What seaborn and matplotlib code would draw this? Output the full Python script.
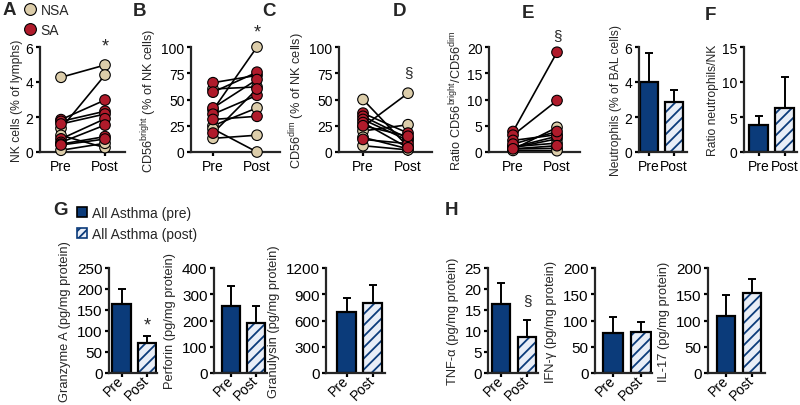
import numpy as np
import pandas as pd
import seaborn as sns
import matplotlib
matplotlib.use("Agg")
import matplotlib.pyplot as plt
from matplotlib.lines import Line2D
from matplotlib.patches import Patch, Rectangle

TIMES = ["Pre", "Post"]
GROUPS = ["NSA", "SA"]

# paired per-subject values
A_NSA_PRE = [4.27, 1.35, 0.95, 0.10]
A_NSA_POST = [4.97, 4.40, 0.25, 0.50]
A_SA_PRE = [1.85, 1.75, 1.60, 0.75, 0.55, 0.45, 0.40]
A_SA_POST = [2.97, 2.33, 2.17, 1.90, 1.54, 0.88, 0.74]

B_NSA_PRE = [40, 60, 25, 13, 22]
B_NSA_POST = [100, 62, 42, 16, 0]
B_SA_PRE = [66, 57, 42, 36, 31, 18]
B_SA_POST = [73, 76, 69, 54, 34, 60]

C_NSA_PRE = [50, 24, 20, 14, 6]
C_NSA_POST = [5, 56, 26, 3, 2]
C_SA_PRE = [37, 34, 31, 12, 28, 25]
C_SA_POST = [18, 13, 11, 8, 4, 15]

D_NSA_PRE = [0.5, 0.8, 1.0, 0.6, 0.3]
D_NSA_POST = [4.7, 2.5, 1.7, 0.7, 0.25]
D_SA_PRE = [3.9, 3.2, 2.2, 0.9, 1.5, 0.6]
D_SA_POST = [19.0, 9.8, 3.3, 3.0, 3.9, 1.2]

# mean and SEM for bar panels (Pre, Post)
E_MEAN, E_SEM = [3.98, 2.84], [1.70, 0.70]
F_MEAN, F_SEM = [3.9, 6.24], [1.2, 4.45]
GZMA_MEAN, GZMA_SEM = [164, 71], [36, 18]
PRF_MEAN, PRF_SEM = [256, 190], [74, 66]
GNLY_MEAN, GNLY_SEM = [693, 796], [160, 214]
TNF_MEAN, TNF_SEM = [16.4, 8.65], [5.0, 4.0]
IFN_MEAN, IFN_SEM = [76, 77.5], [30, 19]
IL17_MEAN, IL17_SEM = [109, 152], [40, 27]

NAVY = "#0b3b7a"
LIGHT = "#e9eef7"
PALETTE = {"NSA": "#dccdaa", "SA": "#b01b2b"}

W, H = 800, 406

sns.set_style("ticks")
plt.rcParams["font.family"] = ["Liberation Sans", "DejaVu Sans"]
plt.rcParams["mathtext.default"] = "regular"
plt.rcParams["hatch.linewidth"] = 1.3
plt.rcParams["axes.linewidth"] = 1.6
plt.rcParams["xtick.major.width"] = 1.6
plt.rcParams["ytick.major.width"] = 1.6
plt.rcParams["xtick.major.size"] = 3.2
plt.rcParams["ytick.major.size"] = 3.2
plt.rcParams["xtick.major.pad"] = 2
plt.rcParams["ytick.major.pad"] = 1.5


def add_ax(fig, left, right, top, height, pre_px, post_px):
    ax = fig.add_axes([left / W, 1 - (top + height) / H, (right - left) / W, height / H])
    unit = post_px - pre_px
    ax._xl = ((left - pre_px) / unit, (right - pre_px) / unit)
    return ax


def finish(ax, ylabel, yticks, bottom_row=False, label_size=8.7):
    ax.set_xlim(*ax._xl)
    ax.set_ylim(0, yticks[-1])
    ax.set_yticks(yticks)
    ax.set_xticks([0, 1])
    ax.set_xticklabels(TIMES)
    ax.set_xlabel("")
    sns.despine(ax=ax)
    ax.tick_params(colors="black", labelcolor="black")
    if bottom_row:
        ax.set_ylabel(ylabel, fontsize=9.3, labelpad=4)
        ax.tick_params(axis="y", labelsize=11)
        ax.tick_params(axis="x", labelsize=10, pad=0)
        for lab in ax.get_xticklabels():
            lab.set_rotation(45)
            lab.set_ha("right")
            lab.set_va("center")
            lab.set_rotation_mode("anchor")
    else:
        ax.set_ylabel(ylabel, fontsize=label_size, labelpad=2)
        ax.tick_params(labelsize=10)


def paired_panel(ax, nsa_pre, nsa_post, sa_pre, sa_post):
    rows = []
    sid = 0
    for grp, pre, post in (("NSA", nsa_pre, nsa_post), ("SA", sa_pre, sa_post)):
        for a, b in zip(pre, post):
            rows.append((sid, grp, 0, a))
            rows.append((sid, grp, 1, b))
            sid += 1
    df = pd.DataFrame(rows, columns=["subject", "group", "time", "value"])
    sns.lineplot(data=df, x="time", y="value", units="subject", estimator=None,
                 color="black", lw=1.2, ax=ax, legend=False)
    sns.scatterplot(data=df, x="time", y="value", hue="group", hue_order=GROUPS,
                    palette=PALETTE, s=58, edgecolor="black", linewidth=0.8,
                    ax=ax, legend=False, clip_on=False, zorder=3)
    return df


def bar_panel(ax, means, sems):
    sns.barplot(x=[0, 1], y=means, color=NAVY, saturation=1, width=0.72,
                edgecolor="black", linewidth=1.6, errorbar=None, ax=ax)
    post = ax.patches[1]
    post.set_facecolor(LIGHT)
    post.set_hatch("///")
    post.set_edgecolor(NAVY)
    post.set_linewidth(0)
    ax.add_patch(Rectangle(post.get_xy(), post.get_width(), post.get_height(),
                           fill=False, edgecolor="black", lw=1.6, zorder=2.5))
    ax.errorbar([0, 1], means, yerr=[[0, 0], sems], fmt="none", ecolor="black",
                elinewidth=1.4, capsize=3.2, capthick=1.4, zorder=3)


def mark(ax, y, s, size=13):
    ax.text(1, y, s, ha="center", va="center", fontsize=size, clip_on=False)


fig = plt.figure(figsize=(W / 100, H / 100), dpi=100)

TOP1, TOP2, HT = 48, 269, 105

axA = add_ax(fig, 40, 125, TOP1, HT, 61, 105)
paired_panel(axA, A_NSA_PRE, A_NSA_POST, A_SA_PRE, A_SA_POST)
finish(axA, "NK cells (% of lymphs)", [0, 2, 4, 6])
mark(axA, max(A_NSA_POST + A_SA_POST) + 1.1, "*")

axB = add_ax(fig, 191, 280, TOP1, HT, 213, 257)
paired_panel(axB, B_NSA_PRE, B_NSA_POST, B_SA_PRE, B_SA_POST)
finish(axB, "CD56$^{bright}$ (% of NK cells)", [0, 25, 50, 75, 100], label_size=9.2)
mark(axB, max(B_NSA_POST + B_SA_POST) + 14, "*")

axC = add_ax(fig, 339, 432, TOP1, HT, 363, 408)
paired_panel(axC, C_NSA_PRE, C_NSA_POST, C_SA_PRE, C_SA_POST)
finish(axC, "CD56$^{dim}$ (% of NK cells)", [0, 25, 50, 75, 100], label_size=9.2)
mark(axC, max(C_NSA_POST + C_SA_POST) + 20, "\u00a7", 11)

axD = add_ax(fig, 489, 580, TOP1, HT, 513, 557)
paired_panel(axD, D_NSA_PRE, D_NSA_POST, D_SA_PRE, D_SA_POST)
finish(axD, "Ratio CD56$^{bright}$/CD56$^{dim}$", [0, 5, 10, 15, 20], label_size=9.2)
mark(axD, max(D_NSA_POST + D_SA_POST) + 3.3, "\u00a7", 11)

axE = add_ax(fig, 639, 687, TOP1, HT, 649, 674)
bar_panel(axE, E_MEAN, E_SEM)
finish(axE, "Neutrophils (% of BAL cells)", [0, 2, 4, 6])

axF = add_ax(fig, 744, 797, TOP1, HT, 758.5, 784.5)
bar_panel(axF, F_MEAN, F_SEM)
finish(axF, "Ratio neutrophils/NK", [0, 5, 10, 15])

axG1 = add_ax(fig, 109, 157, TOP2, HT, 121.5, 147)
bar_panel(axG1, GZMA_MEAN, GZMA_SEM)
finish(axG1, "Granzyme A (pg/mg protein)", [0, 50, 100, 150, 200, 250], True)
mark(axG1, GZMA_MEAN[1] + GZMA_SEM[1] + 25, "*")

axG2 = add_ax(fig, 214, 267, TOP2, HT, 231, 256)
bar_panel(axG2, PRF_MEAN, PRF_SEM)
finish(axG2, "Perforin (pg/mg protein)", [0, 100, 200, 300, 400], True)

axG3 = add_ax(fig, 326, 385, TOP2, HT, 346.5, 372.5)
bar_panel(axG3, GNLY_MEAN, GNLY_SEM)
finish(axG3, "Granulysin (pg/mg protein)", [0, 300, 600, 900, 1200], True)

axH1 = add_ax(fig, 488, 538, TOP2, HT, 501, 527)
bar_panel(axH1, TNF_MEAN, TNF_SEM)
finish(axH1, "TNF-\u03b1 (pg/mg protein)", [0, 5, 10, 15, 20, 25], True)
mark(axH1, TNF_MEAN[1] + TNF_SEM[1] + 4.8, "\u00a7", 11)

axH2 = add_ax(fig, 595, 652, TOP2, HT, 613, 641)
bar_panel(axH2, IFN_MEAN, IFN_SEM)
finish(axH2, "IFN-\u03b3 (pg/mg protein)", [0, 50, 100, 150, 200], True)

axH3 = add_ax(fig, 708, 765, TOP2, HT, 726, 752)
bar_panel(axH3, IL17_MEAN, IL17_SEM)
finish(axH3, "IL-17 (pg/mg protein)", [0, 50, 100, 150, 200], True)

# panel letters
for letter, x, y in [("A", 3, 2), ("B", 133, 3), ("C", 262, 3), ("D", 393, 3),
                     ("E", 522, 5), ("F", 705, 7), ("G", 53, 202), ("H", 445, 202)]:
    fig.text(x / W, 1 - y / H, letter, fontsize=13.5, fontweight="bold", va="top", ha="left")

# legends
group_handles = [Line2D([], [], ls="none", marker="o", markersize=8.5,
                        markerfacecolor=PALETTE[g], markeredgecolor="black",
                        markeredgewidth=0.8) for g in GROUPS]
fig.legend(group_handles, GROUPS, loc="upper left", bbox_to_anchor=(24 / W, 1 - 4 / H),
           frameon=False, fontsize=10, handlelength=0.9, handletextpad=0.3,
           labelspacing=0.45, borderpad=0, borderaxespad=0)

bar_handles = [Patch(facecolor=NAVY, edgecolor="black", lw=1.2),
               Patch(facecolor=LIGHT, edgecolor=NAVY, hatch="////", lw=1.2)]
fig.legend(bar_handles, ["All Asthma (pre)", "All Asthma (post)"], loc="upper left",
           bbox_to_anchor=(77 / W, 1 - 207 / H), frameon=False, fontsize=10,
           handlelength=0.75, handleheight=0.75, handletextpad=0.35,
           labelspacing=0.5, borderpad=0, borderaxespad=0)

fig.savefig("out.png", dpi=100)
